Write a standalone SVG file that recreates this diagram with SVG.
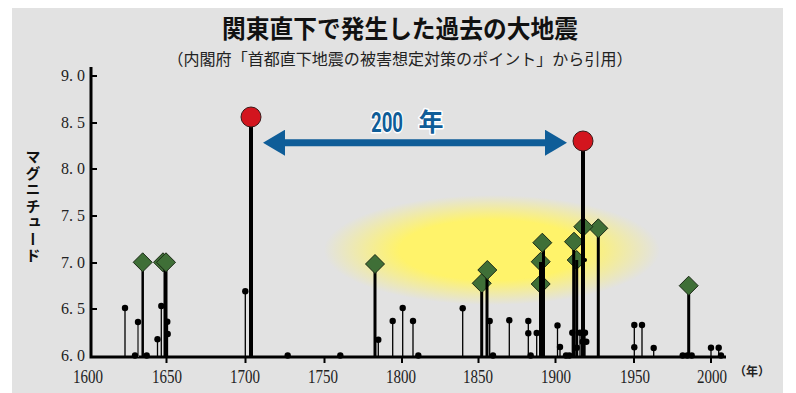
<svg xmlns="http://www.w3.org/2000/svg" width="796" height="393" viewBox="0 0 796 393">
<defs>
<style>
.stem{stroke:#000;fill:none}
.g{stroke:#666}
.dot{fill:#000}
.dia{fill:#3f6f37;stroke:#1b2a16;stroke-width:1}
.eq{fill:#d3151e;stroke:#3a1a1a;stroke-width:1}
.yl{font-family:"Liberation Serif",serif;font-size:16px;fill:#222;text-anchor:end}
.xl{font-family:"Liberation Serif",serif;font-size:19px;fill:#222;text-anchor:middle}
.ax{stroke:#000;stroke-width:3;fill:none}
.tk{stroke:#000;stroke-width:2}
</style>
<radialGradient id="glow" cx="0.5" cy="0.5" r="0.5">
<stop offset="0" stop-color="#fff36a"/>
<stop offset="0.55" stop-color="#fff36a"/>
<stop offset="1" stop-color="#fff36a" stop-opacity="0"/>
</radialGradient>
<path id="dm" d="M0,-9.5 L9.5,0 L0,9.5 L-9.5,0 Z"/>
<marker id="ah" viewBox="0 0 22 26" refX="0" refY="13" markerWidth="22" markerHeight="26" markerUnits="userSpaceOnUse" orient="auto-start-reverse">
<path d="M0,0 L22,13 L0,26 Z" fill="#0f5d98"/>
</marker>
</defs>
<rect x="0" y="0" width="796" height="393" fill="#fff"/>
<rect x="12" y="8" width="771" height="385" fill="#e2e2e2"/>
<ellipse cx="492" cy="250" rx="168" ry="55" fill="url(#glow)"/>

<g id="title">
<text x="400" y="38" text-anchor="middle" font-family="Noto Sans CJK JP, sans-serif" font-weight="700" font-size="25" textLength="356" lengthAdjust="spacingAndGlyphs" fill="#111">関東直下で発生した過去の大地震</text>
<text x="400" y="65" text-anchor="middle" font-family="Noto Sans CJK JP, sans-serif" font-size="16" textLength="465" lengthAdjust="spacingAndGlyphs" fill="#222">（内閣府「首都直下地震の被害想定対策のポイント」から引用）</text>
</g>

<g id="axes">
<path class="ax" d="M91,67 V357 H726"/>
<path class="tk" d="M91,76 H97 M91,123 H97 M91,169 H97 M91,216 H97 M91,263 H97 M91,309 H97"/>
<path class="tk" d="M166.5,357 V363 M245.5,357 V363 M324.5,357 V363 M402,357 V363 M478.5,357 V363 M555.5,357 V363 M634,357 V363 M711,357 V363"/>
<text class="yl" x="85" y="81">9. 0</text>
<text class="yl" x="85" y="128">8. 5</text>
<text class="yl" x="85" y="174">8. 0</text>
<text class="yl" x="85" y="221">7. 5</text>
<text class="yl" x="85" y="268">7. 0</text>
<text class="yl" x="85" y="314">6. 5</text>
<text class="yl" x="85" y="361">6. 0</text>
<text class="xl" x="88" y="383" textLength="30" lengthAdjust="spacingAndGlyphs">1600</text>
<text class="xl" x="167" y="383" textLength="30" lengthAdjust="spacingAndGlyphs">1650</text>
<text class="xl" x="245" y="383" textLength="30" lengthAdjust="spacingAndGlyphs">1700</text>
<text class="xl" x="323" y="383" textLength="30" lengthAdjust="spacingAndGlyphs">1750</text>
<text class="xl" x="401" y="383" textLength="30" lengthAdjust="spacingAndGlyphs">1800</text>
<text class="xl" x="478" y="383" textLength="30" lengthAdjust="spacingAndGlyphs">1850</text>
<text class="xl" x="556" y="383" textLength="30" lengthAdjust="spacingAndGlyphs">1900</text>
<text class="xl" x="635" y="383" textLength="30" lengthAdjust="spacingAndGlyphs">1950</text>
<text class="xl" x="712" y="383" textLength="30" lengthAdjust="spacingAndGlyphs">2000</text>
<text x="752" y="376" text-anchor="middle" font-family="Noto Sans CJK JP, sans-serif" font-weight="700" font-size="12" fill="#222">（年）</text>
<text x="33" y="207" text-anchor="middle" font-family="Noto Sans CJK JP, sans-serif" font-weight="700" font-size="15" fill="#111" style="writing-mode:vertical-rl" letter-spacing="1.5">マグニチュード</text>
</g>

<g id="minor-events">
<path class="stem" stroke-width="1.3" d="M125,357 V308 M161.3,357 V306 M157.5,357 V339 M167.5,357 V322 M245.3,357 V291 M378.3,357 V340 M392.7,357 V321 M402.7,357 V308 M413,357 V321 M462.7,357 V308 M489.7,357 V321 M509.3,357 V320 M528.3,357 V321 M536.7,357 V333 M557.5,357 V325.5 M560,357 V347 M572.3,357 V333 M580,357 V333 M585,357 V333 M576.7,357 V348 M634.3,357 V325 M642,357 V325 M653.7,357 V348 M711,357 V348 M718.7,357 V348"/>
<path class="stem g" stroke-width="2" d="M138,357 V322"/>
<g class="dot">
<circle cx="125" cy="308" r="3.2"/><circle cx="138" cy="322" r="3.2"/><circle cx="135" cy="355.5" r="3.2"/><circle cx="146.7" cy="355.5" r="3.2"/>
<circle cx="157.5" cy="339.3" r="3.2"/><circle cx="161.3" cy="306" r="3.2"/><circle cx="167.3" cy="321.7" r="3.2"/><circle cx="167.7" cy="334" r="3.2"/>
<circle cx="245.3" cy="291.3" r="3.2"/><circle cx="287.7" cy="355.5" r="3.2"/><circle cx="340.3" cy="355.5" r="3.2"/>
<circle cx="378.3" cy="339.7" r="3.2"/><circle cx="392.7" cy="321" r="3.2"/><circle cx="402.7" cy="308" r="3.2"/><circle cx="413" cy="321" r="3.2"/><circle cx="418.3" cy="355.5" r="3.2"/>
<circle cx="462.7" cy="308.3" r="3.2"/><circle cx="489.7" cy="321" r="3.2"/><circle cx="493" cy="355.5" r="3.2"/><circle cx="509.3" cy="320.3" r="3.2"/>
<circle cx="528.3" cy="321" r="3.2"/><circle cx="528.3" cy="333.3" r="3.2"/><circle cx="530.7" cy="355.5" r="3.2"/><circle cx="536.7" cy="333" r="3.2"/>
<circle cx="557.5" cy="325.5" r="3.2"/><circle cx="560" cy="347" r="3.2"/><circle cx="566" cy="355.5" r="3.2"/><circle cx="569.3" cy="355.5" r="3.2"/>
<circle cx="572.3" cy="332.7" r="3.2"/><circle cx="580" cy="332.7" r="3.2"/><circle cx="585" cy="332.7" r="3.2"/><circle cx="582.7" cy="341.7" r="3.2"/><circle cx="586.3" cy="341.7" r="3.2"/><circle cx="576.7" cy="347.7" r="3.2"/>
<circle cx="634.3" cy="325" r="3.2"/><circle cx="634.3" cy="347.3" r="3.2"/><circle cx="642" cy="325" r="3.2"/><circle cx="653.7" cy="348" r="3.2"/>
<circle cx="682.7" cy="355.5" r="3.2"/><circle cx="687.3" cy="355.5" r="3.2"/><circle cx="691.7" cy="355.5" r="3.2"/>
<circle cx="711" cy="347.7" r="3.2"/><circle cx="718.7" cy="347.7" r="3.2"/><circle cx="721" cy="355.5" r="3.2"/>
</g>
</g>

<g id="eq-1633">
<path class="stem" stroke-width="2.5" d="M142.7,357 V262"/>
<use href="#dm" class="dia" x="142.7" y="262.3"/>
</g>
<g id="eq-1649">
<use href="#dm" class="dia" x="163" y="262.3"/>
<path class="stem" stroke-width="4" d="M165.5,357 V262"/>
<use href="#dm" class="dia" x="166" y="262.3"/>
</g>
<g id="eq-1782">
<path class="stem" stroke-width="3" d="M375,357 V264"/>
<use href="#dm" class="dia" x="375" y="264"/>
</g>
<g id="eq-1853">
<use href="#dm" class="dia" x="481.7" y="283.3"/>
<path class="stem" stroke-width="3" d="M481.7,357 V292"/>
</g>
<g id="eq-1855">
<path class="stem" stroke-width="3" d="M487,357 V270"/>
<use href="#dm" class="dia" x="487.3" y="270"/>
</g>
<g id="eq-1894">
<use href="#dm" class="dia" x="540.7" y="284"/>
<use href="#dm" class="dia" x="540.7" y="261.7"/>
<path class="stem" stroke-width="3" d="M540.5,357 V262 M543.5,357 V243"/>
<use href="#dm" class="dia" x="542.3" y="242.7"/>
</g>
<g id="eq-1915">
<use href="#dm" class="dia" x="576.7" y="260"/>
<path class="stem" stroke-width="3" d="M576.7,357 V260"/>
<use href="#dm" class="dia" x="574" y="241.7"/>
<path class="stem" stroke-width="3" d="M573.7,357 V250"/>
</g>
<g id="eq-1924">
<path class="stem" stroke-width="3" d="M598.3,357 V228"/>
<use href="#dm" class="dia" x="598.3" y="228.3"/>
</g>
<g id="eq-1923">
<use href="#dm" class="dia" x="583.3" y="226.7"/>
<path class="stem" stroke-width="4" d="M583,357 V141"/>
<circle class="dot" cx="585" cy="260" r="2"/>
<circle class="eq" cx="583" cy="141" r="10"/>
</g>
<g id="eq-1987">
<path class="stem" stroke-width="3" d="M688.7,357 V286"/>
<use href="#dm" class="dia" x="688.7" y="285.7"/>
</g>
<g id="eq-1703">
<path class="stem" stroke-width="4" d="M251,357 V117"/>
<circle class="eq" cx="251" cy="117" r="10"/>
</g>

<g id="connectors">
<line x1="285" y1="142.7" x2="545" y2="142.7" stroke="#0f5d98" stroke-width="7" marker-start="url(#ah)" marker-end="url(#ah)"/>
</g>
<g id="label-200">
<text x="387" y="132" text-anchor="middle" font-family="Roboto, sans-serif" font-weight="700" font-size="28" textLength="32" lengthAdjust="spacingAndGlyphs" fill="#0f5d98" stroke="#fff" stroke-width="3" stroke-linejoin="round" paint-order="stroke">200</text>
<text x="431" y="131" text-anchor="middle" font-family="Noto Sans CJK JP, sans-serif" font-weight="700" font-size="25" fill="#0f5d98" stroke="#fff" stroke-width="3" stroke-linejoin="round" paint-order="stroke">年</text>
</g>
</svg>
